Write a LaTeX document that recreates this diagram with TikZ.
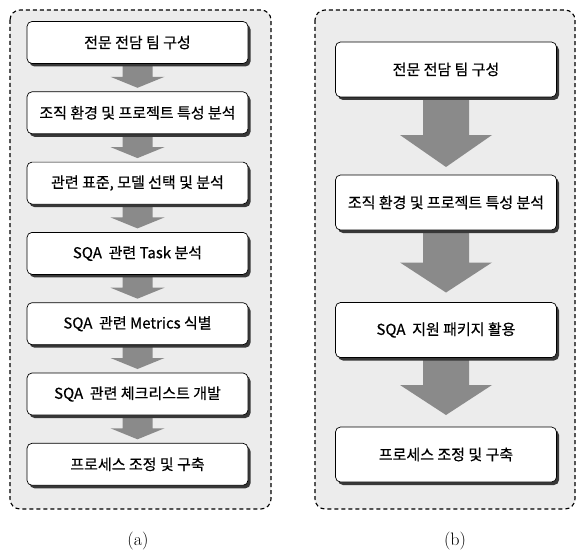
\documentclass[tikz,border=0pt]{standalone}
\usepackage{fontspec}
\newfontfamily\kr[FakeBold=0.5]{Noto Sans CJK KR}
\usetikzlibrary{shadows,calc}
\definecolor{panelgray}{HTML}{ECECEC}
\definecolor{arrowgray}{HTML}{8A8A8A}
\tikzset{
  panel/.style={draw=black, line width=1.1pt, rounded corners=10pt, fill=panelgray, dash pattern=on 4pt off 3pt},
  stepbox/.style={draw=black, line width=0.7pt, rounded corners=5pt, fill=white,
    minimum width=221pt, inner sep=0pt, font=\kr\fontsize{15}{17}\selectfont,
    drop shadow={shadow xshift=2.5pt, shadow yshift=-3pt, fill=black!78, opacity=1}},
  smallbox/.style={stepbox, minimum height=42pt},
  bigbox/.style={stepbox, minimum height=55pt},
  flowarrow/.style={fill=arrowgray},
  caption/.style={font=\fontsize{18}{21}\selectfont}
}
\begin{document}
\begin{tikzpicture}[x=1pt,y=-1pt]
\useasboundingbox (0,0) rectangle (576,551);
% panels
\draw[panel] (10,10) rectangle (271,509);
\draw[panel] (315,10) rectangle (575,509);
% left box positions
\foreach \n/\yy in {1/42.5,2/112.8,3/183.1,4/253.4,5/323.7,6/394,7/464.3}{
  \coordinate (la\n) at (137.5,\yy);
}
% left arrows
\foreach \a/\b in {1/2,2/3,3/4,4/5,5/6,6/7}{
  \fill[flowarrow] ($(la\a)+(-15,21)$) -- ($(la\b)+(-15,-36)$) -- ($(la\b)+(-27,-36)$)
     -- ($(la\b)+(0,-25)$) -- ($(la\b)+(27,-36)$) -- ($(la\b)+(15,-36)$) -- ($(la\a)+(15,21)$) -- cycle;
}
\node[smallbox] (a1) at (la1) {전문 전담 팀 구성};
\node[smallbox] (a2) at (la2) {조직 환경 및 프로젝트 특성 분석};
\node[smallbox] (a3) at (la3) {관련 표준, 모델 선택 및 분석};
\node[smallbox] (a4) at (la4) {SQA\ \ 관련 Task 분석};
\node[smallbox] (a5) at (la5) {SQA\ \ 관련 Metrics 식별};
\node[smallbox] (a6) at (la6) {SQA\ \ 관련 체크리스트 개발};
\node[smallbox] (a7) at (la7) {프로세스 조정 및 구축};
% right box positions
\coordinate (rb1) at (446,69.5);
\coordinate (rb2) at (446,202.5);
\coordinate (rb3) at (446,330);
\coordinate (rb4) at (446,454.5);
\foreach \a/\b/\hb/\ap in {1/2/40/8,2/3/40/10,3/4/42/12}{
  \fill[flowarrow] ($(rb\a)+(-23,27)$) -- ($(rb\b)+(-23,-27.5-\hb)$) -- ($(rb\b)+(-46,-27.5-\hb)$)
     -- ($(rb\b)+(0,-27.5-\ap)$) -- ($(rb\b)+(46,-27.5-\hb)$) -- ($(rb\b)+(23,-27.5-\hb)$) -- ($(rb\a)+(23,27)$) -- cycle;
}
\node[bigbox] (b1) at (rb1) {전문 전담 팀 구성};
\node[bigbox] (b2) at (rb2) {조직 환경 및 프로젝트 특성 분석};
\node[bigbox] (b3) at (rb3) {SQA\ \ 지원 패키지 활용};
\node[bigbox] (b4) at (rb4) {프로세스 조정 및 구축};
% captions
\node[caption] (capa) at (138,541) {(a)};
\node[caption] (capb) at (455,541) {(b)};
\end{tikzpicture}
\end{document}
